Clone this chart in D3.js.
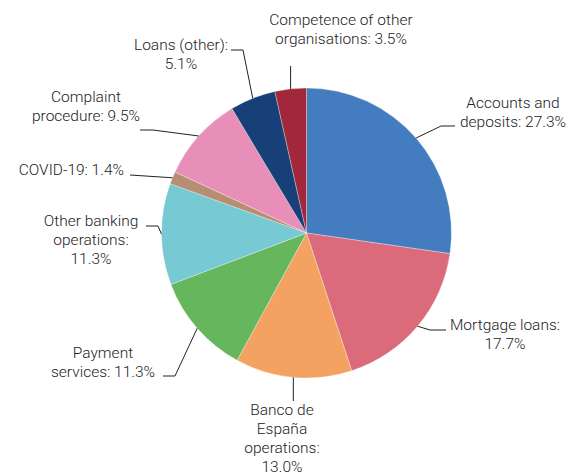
<!DOCTYPE html>
<html>
<head>
<meta charset="utf-8">
<script src="https://cdn.jsdelivr.net/npm/d3@7"></script>
<style>
  html, body { margin: 0; padding: 0; background: #fff; }
  svg { display: block; }
  text { font-family: Roboto, "Liberation Sans", sans-serif; font-weight: 300; fill: #222; }
</style>
</head>
<body>
<svg id="chart" width="571" height="475"></svg>
<script>
// Complaint categories (share of total, %), clockwise from 12 o'clock
const categories = [
  "Accounts and deposits",
  "Mortgage loans",
  "Banco de España operations",
  "Payment services",
  "Other banking operations",
  "COVID-19",
  "Complaint procedure",
  "Loans (other)",
  "Competence of other organisations"
];
const shares = [27.3, 17.7, 13.0, 11.3, 11.3, 1.4, 9.5, 5.1, 3.5];
const labelLines = [
  ["Accounts and", "deposits: 27.3%"],
  ["Mortgage loans:", "17.7%"],
  ["Banco de", "España", "operations:", "13.0%"],
  ["Payment", "services: 11.3%"],
  ["Other banking", "operations:", "11.3%"],
  ["COVID-19: 1.4%"],
  ["Complaint", "procedure: 9.5%"],
  ["Loans (other):", "5.1%"],
  ["Competence of other", "organisations: 3.5%"]
];
const colors = ["#437dc0", "#db6b7b", "#f4a261", "#66b65e", "#77c9d4",
                "#b88e72", "#e78fb8", "#173f78", "#a0283a"];

// Layout: text block centre x / first baseline, and leader-line bends after the rim point
const layout = [
  { x: 513, y: 108, anchor: "middle", bends: [[441, 126], [455, 126]] },
  { x: 505, y: 330, anchor: "middle", bends: [[430, 330], [446, 330]] },
  { x: 282, y: 415, anchor: "middle", bends: [[null, 401]] },
  { x: 103, y: 358, anchor: "middle", bends: [[175, 376], [163, 376]] },
  { x: 91,  y: 226, anchor: "middle", bends: [[158, 226], [146, 226]] },
  { x: 124, y: 175, anchor: "end",    bends: [[130, 175]] },
  { x: 86,  y: 102, anchor: "middle", bends: [[153, 130], [140, 130]] },
  { x: 181, y: 50,  anchor: "middle", bends: [[243, 50], [231, 50]] },
  { x: 341, y: 25,  anchor: "middle", bends: [[null, 66]] }
];

const cx = 306.5, cy = 233, radius = 145;
const lineHeight = 19;

const svg = d3.select("#chart");
const g = svg.append("g").attr("transform", `translate(${cx},${cy})`);

const data = categories.map((c, i) => ({ name: c, value: shares[i], i }));

const pie = d3.pie().value(d => d.value).sort(null);
const arc = d3.arc().innerRadius(0).outerRadius(radius);
const arcs = pie(data);

g.selectAll("path.slice")
  .data(arcs)
  .join("path")
  .attr("class", "slice")
  .attr("d", arc)
  .attr("fill", d => colors[d.data.i])
  .attr("stroke", "#ffffff")
  .attr("stroke-opacity", 0.6)
  .attr("stroke-width", 0.5);

// Leader lines from each slice's mid-angle on the rim
const rimPoint = d => {
  const a = (d.startAngle + d.endAngle) / 2;
  return [cx + radius * Math.sin(a), cy - radius * Math.cos(a)];
};

const line = d3.line();
svg.append("g")
  .selectAll("path")
  .data(arcs)
  .join("path")
  .attr("d", d => {
    const p0 = rimPoint(d);
    const pts = [p0].concat(layout[d.data.i].bends.map(b => [b[0] === null ? p0[0] : b[0], b[1]]));
    return line(pts);
  })
  .attr("fill", "none")
  .attr("stroke", "#222")
  .attr("stroke-width", 1);

// Labels
const labels = svg.append("g")
  .selectAll("text")
  .data(arcs)
  .join("text")
  .attr("text-anchor", d => layout[d.data.i].anchor)
  .attr("font-size", 15.5);

labels.each(function(d) {
  const L = layout[d.data.i];
  d3.select(this).selectAll("tspan")
    .data(labelLines[d.data.i])
    .join("tspan")
    .attr("x", L.x)
    .attr("y", (t, k) => L.y + k * lineHeight)
    .text(t => t);
});
</script>
</body>
</html>
